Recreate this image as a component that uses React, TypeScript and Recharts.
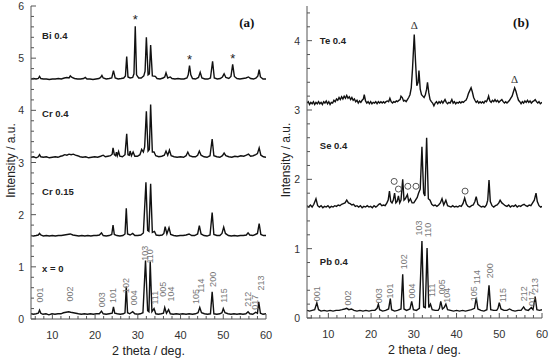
import { LineChart, Line, XAxis, YAxis, ReferenceDot, Label } from "recharts";

type Pt = [number, number];

// ---- panel (a): diffraction patterns, offsets included
const xZero: Pt[] = [
  [5, 0.1], [5.6, 0.09], [6.2, 0.1], [6.7, 0.11], [7.0, 0.17], [7.3, 0.11], [7.8, 0.09], [8.5, 0.1], [9.2, 0.08], [9.9, 0.1],
  [10.6, 0.09], [11.3, 0.1], [12, 0.1], [12.6, 0.12], [13.2, 0.13], [13.8, 0.14], [14.3, 0.13], [14.9, 0.12], [15.5, 0.11], [16.1, 0.1],
  [16.8, 0.09], [17.5, 0.1], [18.2, 0.09], [18.9, 0.1], [19.6, 0.09], [20.3, 0.1], [21.0, 0.1], [21.5, 0.15], [21.9, 0.1], [22.6, 0.09],
  [23.3, 0.1], [24.0, 0.11], [24.3, 0.23], [24.6, 0.11], [25.2, 0.1], [25.9, 0.09], [26.6, 0.1], [27.0, 0.12], [27.3, 0.62], [27.6, 0.12],
  [28.1, 0.1], [28.8, 0.14], [29.3, 0.1], [30.0, 0.09], [30.6, 0.1], [31.2, 0.12], [31.8, 1.12], [32.3, 0.16], [32.6, 0.14], [32.9, 1.1],
  [33.3, 0.14], [33.8, 0.2], [34.2, 0.1], [34.8, 0.09], [35.5, 0.1], [36.0, 0.11], [36.3, 0.22], [36.7, 0.11], [37.2, 0.18], [37.6, 0.1],
  [38.3, 0.09], [39.0, 0.1], [39.8, 0.09], [40.5, 0.1], [41.3, 0.09], [42.0, 0.1], [42.8, 0.09], [43.5, 0.1], [44.1, 0.12], [44.5, 0.22],
  [44.9, 0.12], [45.6, 0.1], [46.3, 0.09], [47.0, 0.1], [47.4, 0.52], [47.8, 0.1], [48.5, 0.09], [49.2, 0.1], [49.7, 0.12], [50.0, 0.2],
  [50.4, 0.12], [51.1, 0.1], [51.8, 0.09], [52.5, 0.1], [53.2, 0.09], [53.9, 0.1], [54.6, 0.09], [55.3, 0.1], [55.8, 0.14], [56.2, 0.1],
  [56.9, 0.09], [57.6, 0.13], [58.0, 0.11], [58.3, 0.33], [58.7, 0.11], [59.3, 0.09], [60, 0.1],
];

const cr015: Pt[] = [
  [5, 1.6], [5.6, 1.59], [6.2, 1.6], [6.7, 1.61], [7.0, 1.64], [7.3, 1.61], [7.9, 1.59], [8.6, 1.6], [9.3, 1.59], [10.0, 1.6],
  [10.7, 1.59], [11.4, 1.6], [12.1, 1.6], [12.8, 1.61], [13.5, 1.62], [14.2, 1.63], [14.8, 1.61], [15.5, 1.6], [16.2, 1.59], [16.9, 1.6],
  [17.6, 1.59], [18.3, 1.6], [19.0, 1.59], [19.7, 1.6], [20.4, 1.6], [21.0, 1.61], [21.5, 1.65], [21.9, 1.6], [22.6, 1.59], [23.3, 1.6],
  [23.9, 1.62], [24.2, 1.8], [24.5, 1.62], [25.1, 1.6], [25.8, 1.59], [26.5, 1.6], [27.0, 1.63], [27.3, 2.12], [27.6, 1.63], [28.2, 1.61],
  [28.8, 1.64], [29.3, 1.6], [30.0, 1.6], [30.7, 1.61], [31.3, 1.65], [31.9, 2.62], [32.3, 1.7], [32.6, 1.68], [33.0, 2.59], [33.4, 1.66],
  [33.9, 1.68], [34.3, 1.61], [35.0, 1.6], [35.7, 1.61], [36.1, 1.64], [36.4, 1.77], [36.8, 1.63], [37.3, 1.75], [37.7, 1.62], [38.4, 1.6],
  [39.1, 1.59], [39.9, 1.6], [40.6, 1.6], [41.3, 1.61], [42.0, 1.63], [42.6, 1.6], [43.3, 1.6], [44.0, 1.63], [44.4, 1.79], [44.8, 1.63],
  [45.5, 1.6], [46.2, 1.59], [46.9, 1.61], [47.4, 2.04], [47.8, 1.62], [48.5, 1.6], [49.2, 1.6], [49.7, 1.64], [50.1, 1.76], [50.5, 1.64],
  [51.2, 1.6], [51.9, 1.59], [52.6, 1.6], [53.3, 1.59], [54.0, 1.6], [54.7, 1.6], [55.4, 1.61], [55.8, 1.65], [56.2, 1.61], [56.9, 1.6],
  [57.5, 1.62], [58.0, 1.64], [58.4, 1.83], [58.8, 1.62], [59.4, 1.6], [60, 1.6],
];

const cr04: Pt[] = [
  [5, 3.1], [5.6, 3.11], [6.2, 3.09], [6.7, 3.11], [7.0, 3.15], [7.3, 3.11], [7.9, 3.1], [8.6, 3.11], [9.3, 3.09], [10.0, 3.1],
  [10.7, 3.11], [11.3, 3.1], [11.9, 3.12], [12.4, 3.13], [12.9, 3.15], [13.4, 3.14], [13.9, 3.16], [14.4, 3.15], [14.9, 3.16], [15.4, 3.14],
  [15.9, 3.13], [16.5, 3.11], [17.1, 3.1], [17.8, 3.11], [18.5, 3.09], [19.2, 3.1], [19.9, 3.11], [20.6, 3.1], [21.3, 3.12], [21.9, 3.14],
  [22.4, 3.11], [23.0, 3.12], [23.6, 3.13], [24.0, 3.16], [24.2, 3.28], [24.5, 3.15], [24.8, 3.13], [25.0, 3.2], [25.2, 3.13], [25.5, 3.21],
  [25.8, 3.12], [26.4, 3.11], [27.0, 3.15], [27.4, 3.55], [27.7, 3.15], [28.0, 3.14], [28.2, 3.22], [28.5, 3.13], [28.9, 3.2], [29.3, 3.12],
  [29.9, 3.12], [30.5, 3.15], [30.9, 3.25], [31.3, 3.2], [31.6, 3.3], [32.0, 3.98], [32.4, 3.22], [32.7, 3.25], [33.0, 4.11], [33.4, 3.2],
  [33.8, 3.2], [34.2, 3.13], [34.9, 3.11], [35.6, 3.12], [36.2, 3.14], [36.6, 3.22], [37.0, 3.14], [37.4, 3.24], [37.8, 3.13], [38.5, 3.11],
  [39.2, 3.1], [40.0, 3.11], [40.7, 3.1], [41.3, 3.13], [41.7, 3.2], [42.1, 3.13], [42.8, 3.11], [43.5, 3.11], [44.0, 3.14], [44.4, 3.22],
  [44.8, 3.14], [45.5, 3.11], [46.2, 3.1], [46.9, 3.13], [47.4, 3.45], [47.8, 3.13], [48.5, 3.11], [49.2, 3.1], [49.8, 3.13], [50.2, 3.18],
  [50.6, 3.13], [51.3, 3.11], [52.0, 3.1], [52.7, 3.12], [53.4, 3.11], [54.1, 3.13], [54.8, 3.12], [55.4, 3.14], [55.9, 3.16], [56.4, 3.12],
  [57.0, 3.13], [57.6, 3.15], [58.0, 3.17], [58.4, 3.28], [58.8, 3.14], [59.4, 3.11], [60, 3.1],
];

const bi04: Pt[] = [
  [5, 4.6], [5.6, 4.61], [6.2, 4.6], [6.7, 4.61], [7.0, 4.65], [7.3, 4.61], [7.9, 4.6], [8.6, 4.6], [9.3, 4.59], [10.0, 4.6],
  [10.7, 4.6], [11.4, 4.61], [12.1, 4.6], [12.8, 4.62], [13.4, 4.63], [13.9, 4.62], [14.2, 4.66], [14.6, 4.63], [15.2, 4.61], [15.9, 4.6],
  [16.6, 4.6], [17.3, 4.61], [17.7, 4.63], [18.1, 4.6], [18.8, 4.6], [19.5, 4.59], [20.2, 4.6], [20.9, 4.61], [21.3, 4.63], [21.6, 4.67],
  [21.9, 4.62], [22.6, 4.6], [23.3, 4.61], [23.9, 4.62], [24.3, 4.76], [24.7, 4.62], [25.4, 4.6], [26.1, 4.61], [26.7, 4.62], [27.1, 4.66],
  [27.4, 5.03], [27.7, 4.64], [28.2, 4.62], [28.8, 4.63], [29.1, 4.7], [29.4, 5.61], [29.7, 4.68], [30.2, 4.62], [30.8, 4.62], [31.4, 4.66],
  [31.7, 4.75], [32.0, 5.4], [32.4, 4.68], [32.7, 4.7], [33.0, 5.25], [33.4, 4.66], [34.1, 4.65], [34.5, 4.61], [35.2, 4.6], [35.9, 4.62],
  [36.3, 4.64], [36.6, 4.72], [37.0, 4.62], [37.6, 4.64], [38.0, 4.61], [38.7, 4.6], [39.4, 4.61], [40.1, 4.6], [40.8, 4.6], [41.5, 4.62],
  [41.8, 4.68], [42.1, 4.86], [42.4, 4.68], [42.8, 4.61], [43.5, 4.6], [44.2, 4.63], [44.6, 4.73], [45.0, 4.62], [45.7, 4.6], [46.4, 4.6],
  [47.0, 4.62], [47.5, 4.94], [47.9, 4.62], [48.6, 4.6], [49.3, 4.61], [49.8, 4.64], [50.2, 4.7], [50.6, 4.63], [51.3, 4.61], [51.8, 4.65],
  [52.2, 4.88], [52.6, 4.65], [53.2, 4.61], [53.9, 4.6], [54.6, 4.61], [55.3, 4.62], [55.9, 4.64], [56.4, 4.61], [57.1, 4.6], [57.7, 4.62],
  [58.1, 4.66], [58.4, 4.78], [58.7, 4.64], [59.3, 4.6], [60, 4.6],
];

// ---- panel (b)
const pb04: Pt[] = [
  [5, 0.11], [5.6, 0.1], [6.2, 0.11], [6.8, 0.12], [7.3, 0.22], [7.7, 0.12], [8.3, 0.1], [9.0, 0.11], [9.7, 0.1], [10.4, 0.11],
  [11.1, 0.1], [11.8, 0.11], [12.5, 0.11], [13.2, 0.12], [13.8, 0.13], [14.3, 0.14], [14.8, 0.12], [15.4, 0.13], [16.0, 0.11], [16.7, 0.1],
  [17.4, 0.11], [18.1, 0.1], [18.8, 0.11], [19.5, 0.1], [20.2, 0.11], [20.9, 0.11], [21.4, 0.14], [21.7, 0.2], [22.0, 0.12], [22.7, 0.1],
  [23.4, 0.11], [24.1, 0.13], [24.5, 0.28], [24.8, 0.12], [25.5, 0.1], [26.2, 0.11], [27.0, 0.13], [27.4, 0.63], [27.7, 0.13], [28.3, 0.11],
  [29.1, 0.13], [29.5, 0.24], [29.9, 0.12], [30.6, 0.11], [31.3, 0.14], [31.9, 1.11], [32.3, 0.16], [32.7, 0.15], [33.1, 1.01], [33.5, 0.15],
  [33.9, 0.2], [34.3, 0.12], [35.0, 0.11], [35.7, 0.11], [36.0, 0.14], [36.3, 0.24], [36.7, 0.13], [37.1, 0.15], [37.5, 0.2], [37.9, 0.12],
  [38.6, 0.11], [39.3, 0.1], [40.0, 0.11], [40.7, 0.1], [41.4, 0.11], [42.1, 0.1], [42.8, 0.11], [43.5, 0.12], [44.2, 0.14], [44.6, 0.29],
  [45.0, 0.13], [45.7, 0.11], [46.4, 0.1], [47.1, 0.12], [47.6, 0.47], [48.0, 0.12], [48.7, 0.11], [49.4, 0.11], [49.7, 0.14], [50.0, 0.22],
  [50.4, 0.13], [51.1, 0.11], [51.8, 0.11], [52.4, 0.13], [53.0, 0.11], [53.7, 0.1], [54.4, 0.11], [55.1, 0.11], [55.7, 0.16], [56.1, 0.12],
  [56.8, 0.11], [57.5, 0.15], [57.9, 0.12], [58.4, 0.31], [58.8, 0.12], [59.4, 0.11], [60, 0.12],
];

const se04: Pt[] = [
  [5, 1.62], [5.4, 1.6], [5.8, 1.63], [6.2, 1.6], [6.6, 1.64], [7.1, 1.72], [7.5, 1.62], [7.9, 1.6], [8.3, 1.62], [8.7, 1.59],
  [9.1, 1.61], [9.5, 1.6], [9.9, 1.62], [10.3, 1.59], [10.7, 1.61], [11.1, 1.6], [11.5, 1.62], [11.9, 1.61], [12.3, 1.63], [12.7, 1.62],
  [13.1, 1.64], [13.5, 1.65], [13.9, 1.66], [14.3, 1.7], [14.7, 1.66], [15.1, 1.65], [15.5, 1.63], [15.9, 1.64], [16.3, 1.61], [16.7, 1.62],
  [17.1, 1.6], [17.5, 1.62], [17.9, 1.59], [18.3, 1.61], [18.7, 1.6], [19.1, 1.62], [19.5, 1.6], [19.9, 1.61], [20.3, 1.59], [20.7, 1.62],
  [21.1, 1.6], [21.5, 1.62], [21.8, 1.64], [22.1, 1.65], [22.5, 1.62], [22.9, 1.63], [23.3, 1.62], [23.7, 1.66], [24.0, 1.7], [24.3, 1.83],
  [24.6, 1.68], [24.9, 1.66], [25.2, 1.7], [25.5, 1.8], [25.8, 1.66], [26.1, 1.68], [26.4, 1.76], [26.7, 1.66], [27.0, 1.7], [27.4, 2.0],
  [27.7, 1.7], [28.0, 1.72], [28.5, 1.78], [28.8, 1.68], [29.2, 1.72], [29.6, 1.66], [30.0, 1.66], [30.4, 1.7], [30.8, 1.74], [31.1, 1.8],
  [31.5, 1.86], [31.9, 2.47], [32.3, 1.8], [32.6, 1.76], [33.0, 2.6], [33.4, 1.72], [33.8, 1.7], [34.2, 1.64], [34.6, 1.62], [35.0, 1.63],
  [35.4, 1.61], [35.8, 1.63], [36.2, 1.66], [36.6, 1.72], [37.0, 1.63], [37.5, 1.7], [37.9, 1.62], [38.3, 1.61], [38.7, 1.6], [39.1, 1.62],
  [39.5, 1.6], [39.9, 1.61], [40.3, 1.6], [40.7, 1.62], [41.1, 1.61], [41.5, 1.65], [41.9, 1.73], [42.3, 1.64], [42.7, 1.61], [43.1, 1.6],
  [43.5, 1.62], [43.9, 1.63], [44.3, 1.68], [44.6, 1.75], [45.0, 1.64], [45.4, 1.62], [45.8, 1.6], [46.2, 1.61], [46.6, 1.6], [47.0, 1.63],
  [47.3, 1.7], [47.6, 1.99], [47.9, 1.68], [48.3, 1.62], [48.7, 1.6], [49.1, 1.62], [49.5, 1.63], [49.9, 1.66], [50.2, 1.7], [50.6, 1.66],
  [51.0, 1.64], [51.4, 1.62], [51.8, 1.61], [52.2, 1.63], [52.6, 1.6], [53.0, 1.62], [53.4, 1.61], [53.8, 1.63], [54.2, 1.6], [54.6, 1.62],
  [55.0, 1.61], [55.4, 1.63], [55.8, 1.64], [56.2, 1.62], [56.6, 1.61], [57.0, 1.63], [57.4, 1.62], [57.8, 1.66], [58.2, 1.7], [58.6, 1.8],
  [58.9, 1.68], [59.3, 1.62], [59.7, 1.6], [60, 1.61],
];

const te04: Pt[] = [
  [5, 3.1], [5.3, 3.12], [5.6, 3.08], [5.9, 3.11], [6.2, 3.09], [6.5, 3.12], [6.8, 3.08], [7.1, 3.11], [7.4, 3.09], [7.7, 3.12],
  [8.0, 3.09], [8.3, 3.11], [8.6, 3.08], [8.9, 3.12], [9.2, 3.1], [9.5, 3.13], [9.8, 3.09], [10.1, 3.12], [10.4, 3.08], [10.7, 3.11],
  [11.0, 3.1], [11.3, 3.14], [11.6, 3.12], [11.9, 3.16], [12.2, 3.14], [12.5, 3.18], [12.8, 3.15], [13.1, 3.19], [13.4, 3.16], [13.7, 3.2],
  [14.0, 3.17], [14.3, 3.21], [14.6, 3.17], [14.9, 3.19], [15.2, 3.15], [15.5, 3.18], [15.8, 3.14], [16.1, 3.16], [16.4, 3.12], [16.7, 3.14],
  [17.0, 3.1], [17.3, 3.13], [17.6, 3.11], [17.9, 3.14], [18.2, 3.16], [18.4, 3.22], [18.7, 3.13], [19.0, 3.1], [19.3, 3.12], [19.6, 3.09],
  [19.9, 3.12], [20.2, 3.09], [20.5, 3.11], [20.8, 3.1], [21.1, 3.12], [21.4, 3.09], [21.7, 3.12], [22.0, 3.1], [22.3, 3.12], [22.6, 3.1],
  [22.9, 3.12], [23.2, 3.1], [23.5, 3.12], [23.8, 3.13], [24.1, 3.12], [24.4, 3.17], [24.7, 3.12], [25.0, 3.1], [25.3, 3.12], [25.6, 3.11],
  [25.9, 3.13], [26.2, 3.12], [26.5, 3.14], [26.8, 3.15], [27.0, 3.2], [27.3, 3.18], [27.6, 3.13], [27.9, 3.14], [28.2, 3.12], [28.5, 3.15],
  [28.8, 3.18], [29.1, 3.22], [29.4, 3.32], [29.7, 3.6], [30.1, 4.09], [30.4, 3.7], [30.7, 3.35], [31.0, 3.4], [31.2, 3.57], [31.5, 3.3],
  [31.8, 3.22], [32.1, 3.2], [32.4, 3.18], [32.7, 3.22], [33.0, 3.3], [33.2, 3.4], [33.5, 3.25], [33.8, 3.15], [34.1, 3.12], [34.4, 3.1],
  [34.7, 3.06], [35.0, 3.1], [35.3, 3.12], [35.6, 3.09], [35.9, 3.12], [36.2, 3.1], [36.5, 3.13], [36.8, 3.1], [37.0, 3.12], [37.3, 3.15],
  [37.6, 3.11], [37.9, 3.09], [38.2, 3.11], [38.5, 3.1], [38.9, 3.15], [39.2, 3.1], [39.5, 3.12], [39.8, 3.09], [40.1, 3.11], [40.4, 3.1],
  [40.7, 3.12], [41.0, 3.1], [41.3, 3.12], [41.6, 3.11], [41.9, 3.13], [42.2, 3.14], [42.5, 3.18], [42.8, 3.24], [43.1, 3.28], [43.4, 3.32],
  [43.7, 3.26], [44.0, 3.18], [44.3, 3.14], [44.6, 3.11], [44.9, 3.13], [45.2, 3.1], [45.5, 3.12], [45.8, 3.1], [46.1, 3.12], [46.4, 3.1],
  [46.7, 3.13], [47.0, 3.12], [47.3, 3.16], [47.5, 3.2], [47.8, 3.13], [48.1, 3.11], [48.4, 3.14], [48.7, 3.12], [49.0, 3.15], [49.3, 3.12],
  [49.6, 3.14], [49.9, 3.11], [50.2, 3.13], [50.6, 3.15], [50.9, 3.12], [51.2, 3.1], [51.5, 3.12], [51.8, 3.1], [52.1, 3.12], [52.4, 3.14],
  [52.7, 3.17], [53.0, 3.2], [53.3, 3.26], [53.6, 3.32], [53.9, 3.27], [54.2, 3.2], [54.5, 3.14], [54.8, 3.12], [55.1, 3.09], [55.4, 3.12],
  [55.7, 3.1], [56.0, 3.13], [56.3, 3.11], [56.6, 3.14], [56.9, 3.11], [57.2, 3.13], [57.5, 3.1], [57.8, 3.12], [58.1, 3.13], [58.4, 3.15],
  [58.7, 3.12], [59.0, 3.1], [59.3, 3.12], [59.6, 3.09], [60, 3.11],
];

// ---- annotations
type Tag = [string, number, number];
const hklA: Tag[] = [
  ["001", 7.0, 0.46], ["002", 14.2, 0.48], ["003", 21.6, 0.37], ["101", 24.3, 0.45], ["102", 27.3, 0.64], ["004", 29.2, 0.41],
  ["103", 31.6, 1.26], ["110", 32.8, 1.2], ["111", 34.1, 0.41], ["005", 36.0, 0.57], ["104", 37.7, 0.48], ["105", 43.6, 0.43],
  ["114", 44.8, 0.64], ["200", 47.7, 0.76], ["115", 50.2, 0.45], ["212", 55.9, 0.38], ["017", 57.4, 0.32], ["213", 58.9, 0.69],
];
const hklB: Tag[] = [
  ["001", 7.4, 0.35], ["002", 14.5, 0.29], ["003", 21.9, 0.32], ["101", 24.4, 0.39], ["102", 27.6, 0.81], ["004", 29.5, 0.39],
  ["103", 31.3, 1.3], ["110", 33.4, 1.27], ["111", 34.2, 0.4], ["005", 36.6, 0.45], ["104", 37.7, 0.33], ["105", 44.2, 0.35],
  ["114", 44.8, 0.59], ["200", 47.9, 0.68], ["115", 50.8, 0.33], ["212", 55.7, 0.35], ["017", 57.6, 0.28], ["213", 58.3, 0.47],
];
const samplesA: Tag[] = [["Bi 0.4", 7.6, 5.43], ["Cr 0.4", 7.6, 3.93], ["Cr 0.15", 7.6, 2.44], ["x = 0", 7.6, 0.97]];
const samplesB: Tag[] = [["Te 0.4", 8.0, 4.0], ["Se 0.4", 8.0, 2.49], ["Pb 0.4", 8.0, 0.81]];
const starsA: Pt[] = [[29.4, 5.79], [42.1, 5.03], [52.2, 5.05]];
const trianglesB: Pt[] = [[30.1, 4.23], [53.6, 3.45]];
const circlesB: Pt[] = [[25.4, 1.97], [26.4, 1.86], [28.6, 1.9], [30.5, 1.9], [42.0, 1.83]];

const xTicks = [6, 8, 10, 12, 14, 16, 18, 20, 22, 24, 26, 28, 30, 32, 34, 36, 38, 40, 42, 44, 46, 48, 50, 52, 54, 56, 58, 60];
const yTicksA = [0, 0.2, 0.4, 0.6, 0.8, 1, 1.2, 1.4, 1.6, 1.8, 2, 2.2, 2.4, 2.6, 2.8, 3, 3.2, 3.4, 3.6, 3.8, 4, 4.2, 4.4, 4.6, 4.8, 5, 5.2, 5.4, 5.6, 5.8, 6];
const yTicksB = [0, 0.2, 0.4, 0.6, 0.8, 1, 1.2, 1.4, 1.6, 1.8, 2, 2.2, 2.4, 2.6, 2.8, 3, 3.2, 3.4, 3.6, 3.8, 4, 4.2, 4.4];

const SANS = "Arial, 'Liberation Sans', sans-serif";
const SERIF = "'Times New Roman', 'Liberation Serif', serif";
const AXIS = "#555";

const rows = (pts: Pt[]) => pts.map(([x, y]) => ({ x, y }));
const isMajorY = (v: number) => Math.abs(v - Math.round(v)) < 1e-6;

function BottomTick(p: any) {
  const v = p.payload.value;
  const major = v % 10 === 0;
  return (
    <g>
      <line x1={p.x} x2={p.x} y1={p.y} y2={p.y - (major ? 5 : 3)} stroke={AXIS} />
      {major && (
        <text x={p.x} y={p.y + 20} textAnchor="middle" fontSize={11} fill="#333" fontFamily={SANS}>
          {v}
        </text>
      )}
    </g>
  );
}
function TopTick(p: any) {
  const major = p.payload.value % 10 === 0;
  return <line x1={p.x} x2={p.x} y1={p.y} y2={p.y + (major ? 5 : 3)} stroke={AXIS} />;
}
function LeftTick(p: any) {
  const v = p.payload.value;
  const major = isMajorY(v);
  return (
    <g>
      <line x1={p.x} x2={p.x + (major ? 5 : 3)} y1={p.y} y2={p.y} stroke={AXIS} />
      {major && (
        <text x={p.x - 7} y={p.y + 4} textAnchor="end" fontSize={10.5} fill="#333" fontFamily={SANS}>
          {Math.round(v)}
        </text>
      )}
    </g>
  );
}
function RightTick(p: any) {
  const major = isMajorY(p.payload.value);
  return <line x1={p.x} x2={p.x - (major ? 5 : 3)} y1={p.y} y2={p.y} stroke={AXIS} />;
}

function Panel({
  series,
  yMax,
  yTicks,
  hkl,
  samples,
  tag,
  tagPos,
  plotLeft,
  marginRight,
  xHeight,
  children,
}: {
  series: Pt[][];
  yMax: number;
  yTicks: number[];
  hkl: Tag[];
  samples: Tag[];
  tag: string;
  tagPos: Pt;
  plotLeft: number;
  marginRight: number;
  xHeight: number;
  children?: any;
}) {
  return (
    <LineChart width={275} height={362} margin={{ top: 6, right: marginRight, left: 0, bottom: 0 }}>
      <XAxis
        type="number"
        dataKey="x"
        domain={[5, 60]}
        allowDataOverflow
        ticks={xTicks}
        interval={0}
        tickSize={0}
        tickMargin={0}
        tickLine={false}
        tick={BottomTick}
        height={xHeight}
        axisLine={{ stroke: AXIS }}
      >
        <Label
          content={({ viewBox }: any) => (
            <text
              x={viewBox.x + viewBox.width / 2}
              y={viewBox.y + 36}
              textAnchor="middle"
              fontSize={12.5}
              fill="#222"
              fontFamily={SANS}
            >
              2 theta / deg.
            </text>
          )}
        />
      </XAxis>
      <XAxis
        xAxisId="top"
        orientation="top"
        type="number"
        domain={[5, 60]}
        allowDataOverflow
        ticks={xTicks}
        interval={0}
        tickSize={0}
        tickMargin={0}
        tickLine={false}
        tick={TopTick}
        height={0}
        axisLine={{ stroke: AXIS }}
      />
      <YAxis
        type="number"
        domain={[0, yMax]}
        allowDataOverflow
        ticks={yTicks}
        interval={0}
        tickSize={0}
        tickMargin={0}
        tickLine={false}
        tick={LeftTick}
        width={plotLeft}
        axisLine={{ stroke: AXIS }}
      >
        <Label
          content={({ viewBox }: any) => {
            const cx = viewBox.x + 11;
            const cy = viewBox.y + viewBox.height / 2 - 2;
            return (
              <text
                x={cx}
                y={cy}
                transform={`rotate(-90 ${cx} ${cy})`}
                textAnchor="middle"
                dominantBaseline="central"
                fontSize={12}
                fill="#222"
                fontFamily={SANS}
              >
                Intensity / a.u.
              </text>
            );
          }}
        />
      </YAxis>
      <YAxis
        yAxisId="right"
        orientation="right"
        type="number"
        domain={[0, yMax]}
        allowDataOverflow
        ticks={yTicks}
        interval={0}
        tickSize={0}
        tickMargin={0}
        tickLine={false}
        tick={RightTick}
        width={0}
        axisLine={{ stroke: AXIS }}
      />
      {series.map((s, i) => (
        <Line
          key={i}
          data={rows(s)}
          dataKey="y"
          type="linear"
          stroke="#111"
          strokeWidth={1.4}
          dot={false}
          activeDot={false}
          isAnimationActive={false}
        />
      ))}
      {hkl.map(([t, x, y]) => (
        <ReferenceDot
          key={`h${t}`}
          x={x}
          y={y}
          r={0}
          shape={(p: any) => (
            <text
              x={p.cx}
              y={p.cy}
              transform={`rotate(-90 ${p.cx} ${p.cy})`}
              textAnchor="middle"
              dominantBaseline="central"
              fontSize={9}
              fill="#777"
              fontFamily={SANS}
            >
              {t}
            </text>
          )}
        />
      ))}
      {samples.map(([t, x, y]) => (
        <ReferenceDot
          key={`s${t}`}
          x={x}
          y={y}
          r={0}
          shape={(p: any) => (
            <text x={p.cx} y={p.cy + 3.5} fontSize={9.5} fontWeight="bold" fill="#222" fontFamily={SANS}>
              {t}
            </text>
          )}
        />
      ))}
      <ReferenceDot
        x={tagPos[0]}
        y={tagPos[1]}
        r={0}
        shape={(p: any) => (
          <text x={p.cx} y={p.cy + 4.5} textAnchor="middle" fontSize={13} fontWeight="bold" fill="#111" fontFamily={SERIF}>
            {tag}
          </text>
        )}
      />
      {children}
    </LineChart>
  );
}

export default function App() {
  return (
    <div style={{ position: "absolute", left: 0, top: 0, width: 550, height: 362, background: "#fff" }}>
      <div style={{ position: "absolute", left: 0, top: 0 }}>
        <Panel
          series={[xZero, cr015, cr04, bi04]}
          yMax={6}
          yTicks={yTicksA}
          hkl={hklA}
          samples={samplesA}
          tag="(a)"
          tagPos={[55.5, 5.68]}
          plotLeft={31}
          marginRight={9}
          xHeight={43}
        >
          {starsA.map(([x, y]) => (
            <ReferenceDot
              key={`st${x}`}
              x={x}
              y={y}
              r={0}
              shape={(p: any) => (
                <text x={p.cx} y={p.cy + 7} textAnchor="middle" fontSize={13} fill="#222" fontFamily={SANS}>
                  *
                </text>
              )}
            />
          ))}
        </Panel>
      </div>
      <div style={{ position: "absolute", left: 275, top: 0 }}>
        <Panel
          series={[pb04, se04, te04]}
          yMax={4.5}
          yTicks={yTicksB}
          hkl={hklB}
          samples={samplesB}
          tag="(b)"
          tagPos={[55.1, 4.26]}
          plotLeft={32}
          marginRight={8}
          xHeight={44}
        >
          {trianglesB.map(([x, y]) => (
            <ReferenceDot
              key={`tr${x}`}
              x={x}
              y={y}
              r={0}
              shape={(p: any) => (
                <text x={p.cx} y={p.cy + 4} textAnchor="middle" fontSize={11} fill="#333" fontFamily={SERIF}>
                  Δ
                </text>
              )}
            />
          ))}
          {circlesB.map(([x, y]) => (
            <ReferenceDot
              key={`c${x}`}
              x={x}
              y={y}
              r={3}
              fill="none"
              stroke="#555"
              strokeWidth={1}
            />
          ))}
        </Panel>
      </div>
    </div>
  );
}
